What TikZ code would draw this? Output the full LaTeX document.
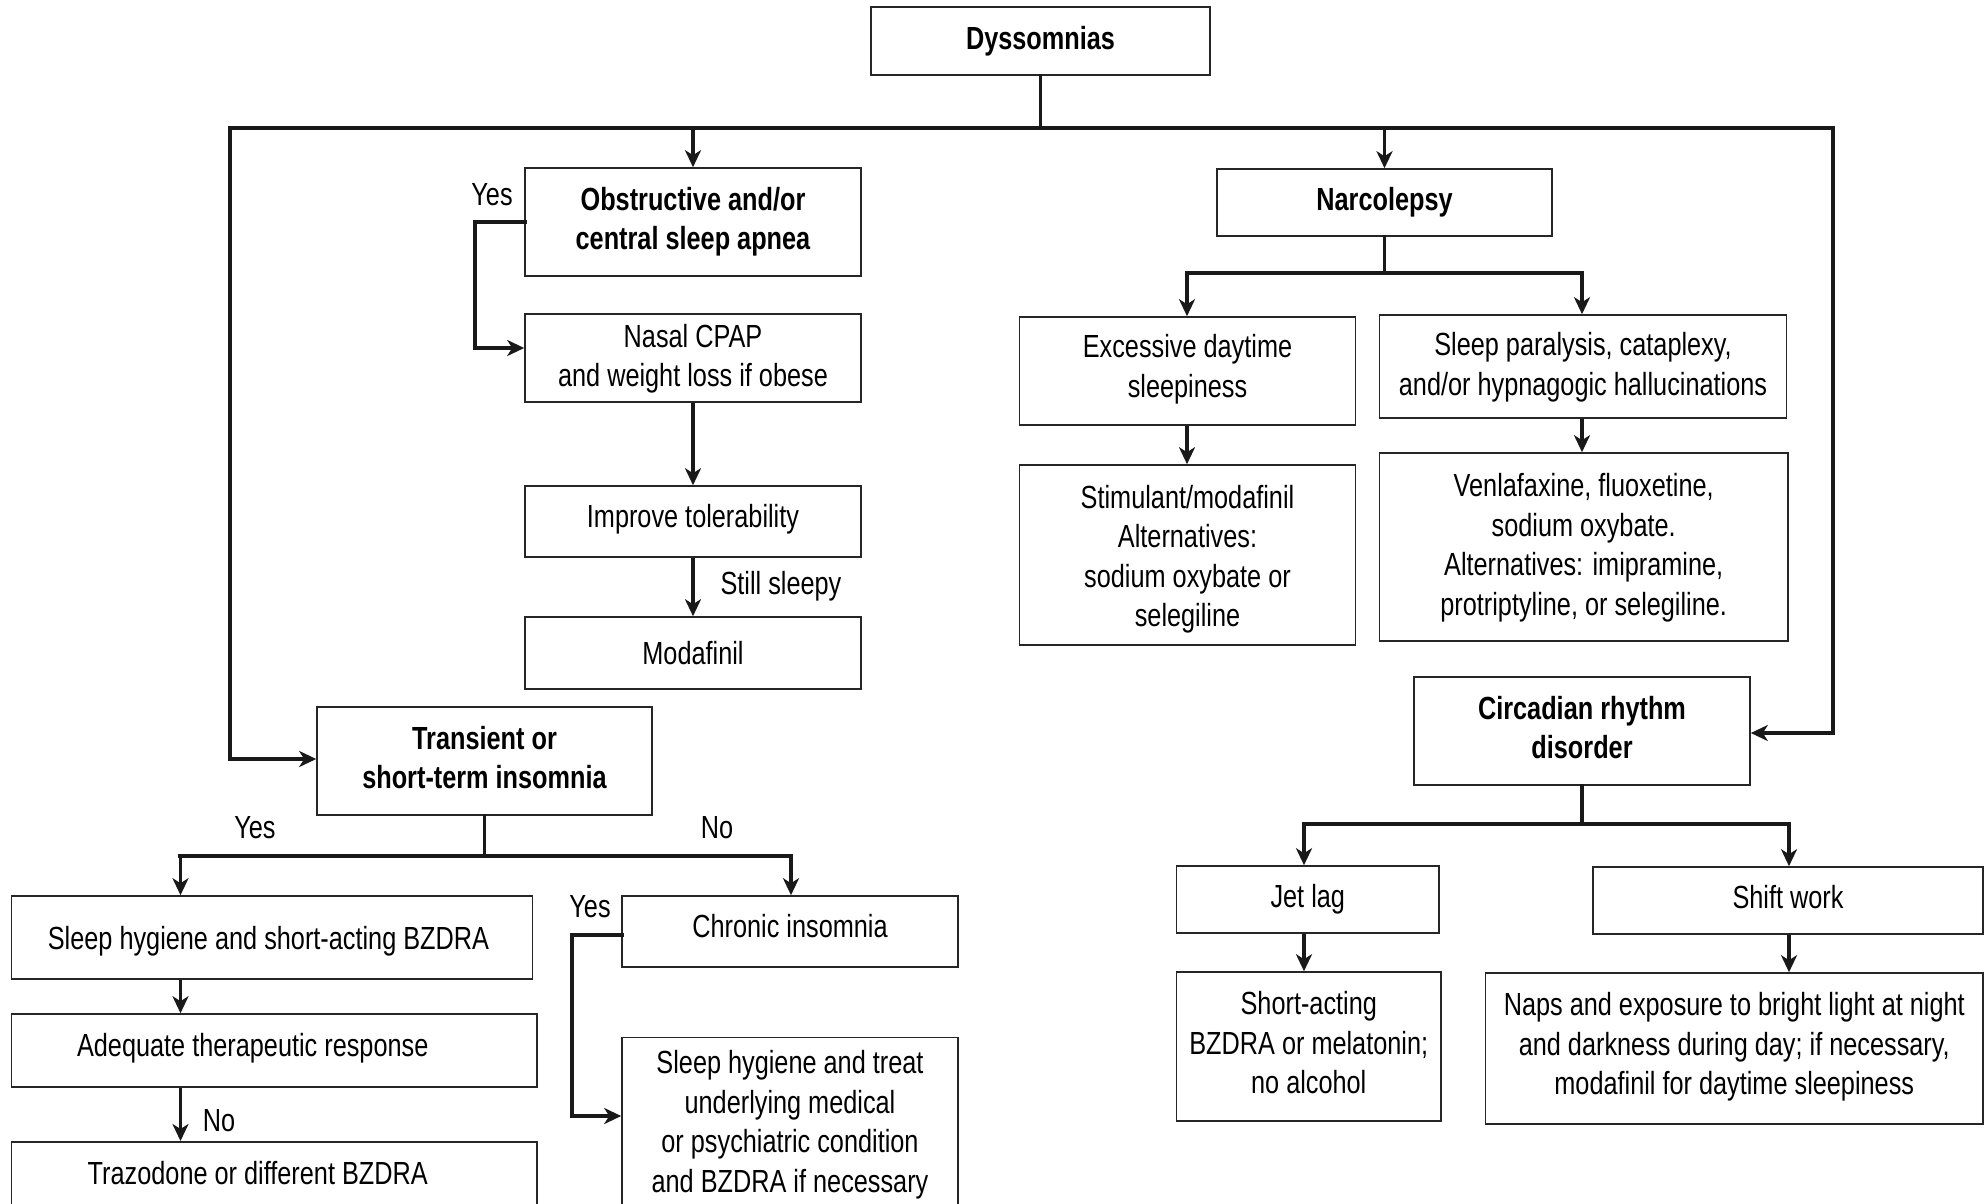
\documentclass[tikz,border=0pt]{standalone}
\usepackage{fontspec}
\setmainfont{Liberation Sans}[FakeStretch=0.79]
\usetikzlibrary{arrows.meta}
% multi-line text, lifted by #1 without changing its measured size
\newcommand{\mlines}[2]{\raisebox{#1}[\height][\depth]{\begin{tabular}{@{}c@{}}#2\end{tabular}}}
% single line text, lifted by #1
\newcommand{\oneline}[2]{\raisebox{#1}[\height][\depth]{#2}}
\begin{document}
\begin{tikzpicture}[x=1pt,y=-1pt,
  box/.style={draw=black!85, line width=1.6pt, inner sep=0pt, font=\fontsize{32pt}{39.5pt}\selectfont},
  bbox/.style={box, font=\fontsize{32pt}{39.5pt}\selectfont\bfseries},
  vl/.style={draw=black!90, line width=3.4pt, line cap=rect},
  hl/.style={draw=black!90, line width=4.6pt, line cap=rect},
  arr/.style={line cap=butt, -{Stealth[length=17pt,width=16pt,inset=5pt]}},
  lbl/.style={inner sep=0pt, font=\fontsize{32pt}{39.5pt}\selectfont}
]
\useasboundingbox (0,0) rectangle (1985,1203);
\clip (0,0) rectangle (1985,1203);

% boxes
\node[bbox, minimum width=339pt, minimum height=68pt] (dys) at (1040.5,41) {Dyssomnias};
\node[bbox, minimum width=336pt, minimum height=108pt] (osa) at (693,222) {\mlines{0pt}{Obstructive and/or\\central sleep apnea}};
\node[box, minimum width=336pt, minimum height=88pt] (cpap) at (693,358) {\mlines{-1.3pt}{Nasal CPAP\\and weight loss if obese}};
\node[box, minimum width=336pt, minimum height=71pt] (tol) at (693,521.5) {\oneline{2.5pt}{Improve tolerability}};
\node[box, minimum width=336pt, minimum height=72pt] (moda) at (693,653) {Modafinil};
\node[bbox, minimum width=335pt, minimum height=108pt] (trans) at (484.5,761) {\mlines{0pt}{Transient or\\short-term insomnia}};
\node[bbox, minimum width=335pt, minimum height=67pt] (narc) at (1384.5,202.5) {Narcolepsy};
\node[box, minimum width=336pt, minimum height=108pt] (eds) at (1187.5,371) {\mlines{1.3pt}{Excessive daytime\\sleepiness}};
\node[box, minimum width=407pt, minimum height=103pt] (spc) at (1583,366.5) {\mlines{-1.3pt}{Sleep paralysis, cataplexy,\\and/or hypnagogic hallucinations}};
\node[box, minimum width=336pt, minimum height=180pt] (stim) at (1187.5,555) {\mlines{-4.4pt}{Stimulant/modafinil\\Alternatives:\\sodium oxybate or\\selegiline}};
\node[box, minimum width=408.6pt, minimum height=188pt] (venla) at (1583.7,547) {\mlines{-1pt}{Venlafaxine, fluoxetine,\\sodium oxybate.\\Alternatives: imipramine,\\protriptyline, or selegiline.}};
\node[bbox, minimum width=336pt, minimum height=108pt] (circ) at (1582,731) {\mlines{0pt}{Circadian rhythm\\disorder}};
\node[box, minimum width=262.5pt, minimum height=67pt] (jet) at (1307.75,899.5) {Jet lag};
\node[box, minimum width=390pt, minimum height=67pt] (shiftw) at (1788,900.5) {\oneline{3.8pt}{Shift work}};
\node[box, minimum width=264.5pt, minimum height=149pt] (shortact) at (1308.75,1046.5) {\mlines{0pt}{Short-acting\\BZDRA or melatonin;\\no alcohol}};
\node[box, minimum width=497.5pt, minimum height=151pt] (naps) at (1734.25,1048.5) {\mlines{1.3pt}{Naps and exposure to bright light at night\\and darkness during day; if necessary,\\modafinil for daytime sleepiness}};
\node[box, minimum width=521pt, minimum height=83pt] (shbz) at (272,937.5) {\oneline{-3.8pt}{Sleep hygiene and short-acting BZDRA\hspace*{7pt}}};
\node[box, minimum width=525.5pt, minimum height=73pt] (adeq) at (274.25,1050.5) {\oneline{2.5pt}{Adequate therapeutic response\hspace*{43pt}}};
\node[box, anchor=north, minimum width=525.5pt, text height=42.6pt, text depth=32.4pt] (traz) at (274.25,1141) {Trazodone or different BZDRA\hspace*{33pt}};
\node[box, minimum width=336pt, minimum height=71pt] (chron) at (790,931.5) {\oneline{5pt}{Chronic insomnia}};
\node[box, minimum width=336pt, minimum height=170pt] (shtreat) at (790,1122.5) {\mlines{-2.8pt}{Sleep hygiene and treat\\underlying medical\\or psychiatric condition\\and BZDRA if necessary}};

% labels
\node[lbl] (yes1) at (492,195) {Yes};
\node[lbl] (still) at (781,586) {Still sleepy};
\node[lbl] (yes2) at (255,828) {Yes};
\node[lbl] (no1) at (717,828) {No};
\node[lbl] (yes3) at (590,907) {Yes};
\node[lbl] (no2) at (219,1121) {No};

% top bus
\coordinate (busL) at (230,128);
\coordinate (busR) at (1833,128);
\draw[vl] (dys.south) -- (dys.south |- busL);
\draw[hl] (busL) -- (busR);
\draw[vl,arr] (osa.north |- busL) -- (osa.north);
\draw[vl,arr] (narc.north |- busL) -- (narc.north);
\coordinate (cL) at (230,759);
\draw[vl] (busL) -- (cL);
\draw[hl,arr] ([xshift=-1.7pt]cL) -- (cL -| trans.west);
\coordinate (cR) at (1833,733);
\draw[vl] (busR) -- (cR);
\draw[hl,arr] ([xshift=1.7pt]cR) -- (cR -| circ.east);

% sleep apnea branch
\coordinate (y1a) at (475,222);
\coordinate (y1b) at (475,348);
\draw[hl] (osa.west) -- (y1a);
\draw[vl] (y1a) -- (y1b);
\draw[hl,arr] ([xshift=-1.7pt]y1b) -- (y1b -| cpap.west);
\draw[vl,arr] (cpap.south) -- (tol.north);
\draw[vl,arr] (tol.south) -- (moda.north);

% insomnia branch
\coordinate (tbL) at (180.5,856);
\coordinate (tbR) at (791,856);
\draw[vl] (trans.south) -- (trans.south |- tbL);
\draw[hl] (tbL) -- (tbR);
\draw[vl,arr] (tbL) -- (tbL |- shbz.north);
\draw[vl,arr] (tbR) -- (tbR |- chron.north);
\draw[vl,arr] (tbL |- shbz.south) -- (tbL |- adeq.north);
\draw[vl,arr] (tbL |- adeq.south) -- (tbL |- traz.north);
\coordinate (y2a) at (572,935);
\coordinate (y2b) at (572,1116);
\draw[hl] (chron.west |- y2a) -- (y2a);
\draw[vl] (y2a) -- (y2b);
\draw[hl,arr] ([xshift=-1.7pt]y2b) -- (y2b -| shtreat.west);

% narcolepsy branch
\coordinate (nbL) at (1187,273);
\coordinate (nbR) at (1582,273);
\draw[vl] (narc.south) -- (narc.south |- nbL);
\draw[hl] (nbL) -- (nbR);
\draw[vl,arr] (nbL) -- (nbL |- eds.north);
\draw[vl,arr] (nbR) -- (nbR |- spc.north);
\draw[vl,arr] (nbL |- eds.south) -- (nbL |- stim.north);
\draw[vl,arr] (nbR |- spc.south) -- (nbR |- venla.north);

% circadian branch
\coordinate (cbL) at (1304,824);
\coordinate (cbR) at (1789,824);
\draw[vl] (circ.south) -- (circ.south |- cbL);
\draw[hl] (cbL) -- (cbR);
\draw[vl,arr] (cbL) -- (cbL |- jet.north);
\draw[vl,arr] (cbR) -- (cbR |- shiftw.north);
\draw[vl,arr] (cbL |- jet.south) -- (cbL |- shortact.north);
\draw[vl,arr] (cbR |- shiftw.south) -- (cbR |- naps.north);
\end{tikzpicture}
\end{document}
